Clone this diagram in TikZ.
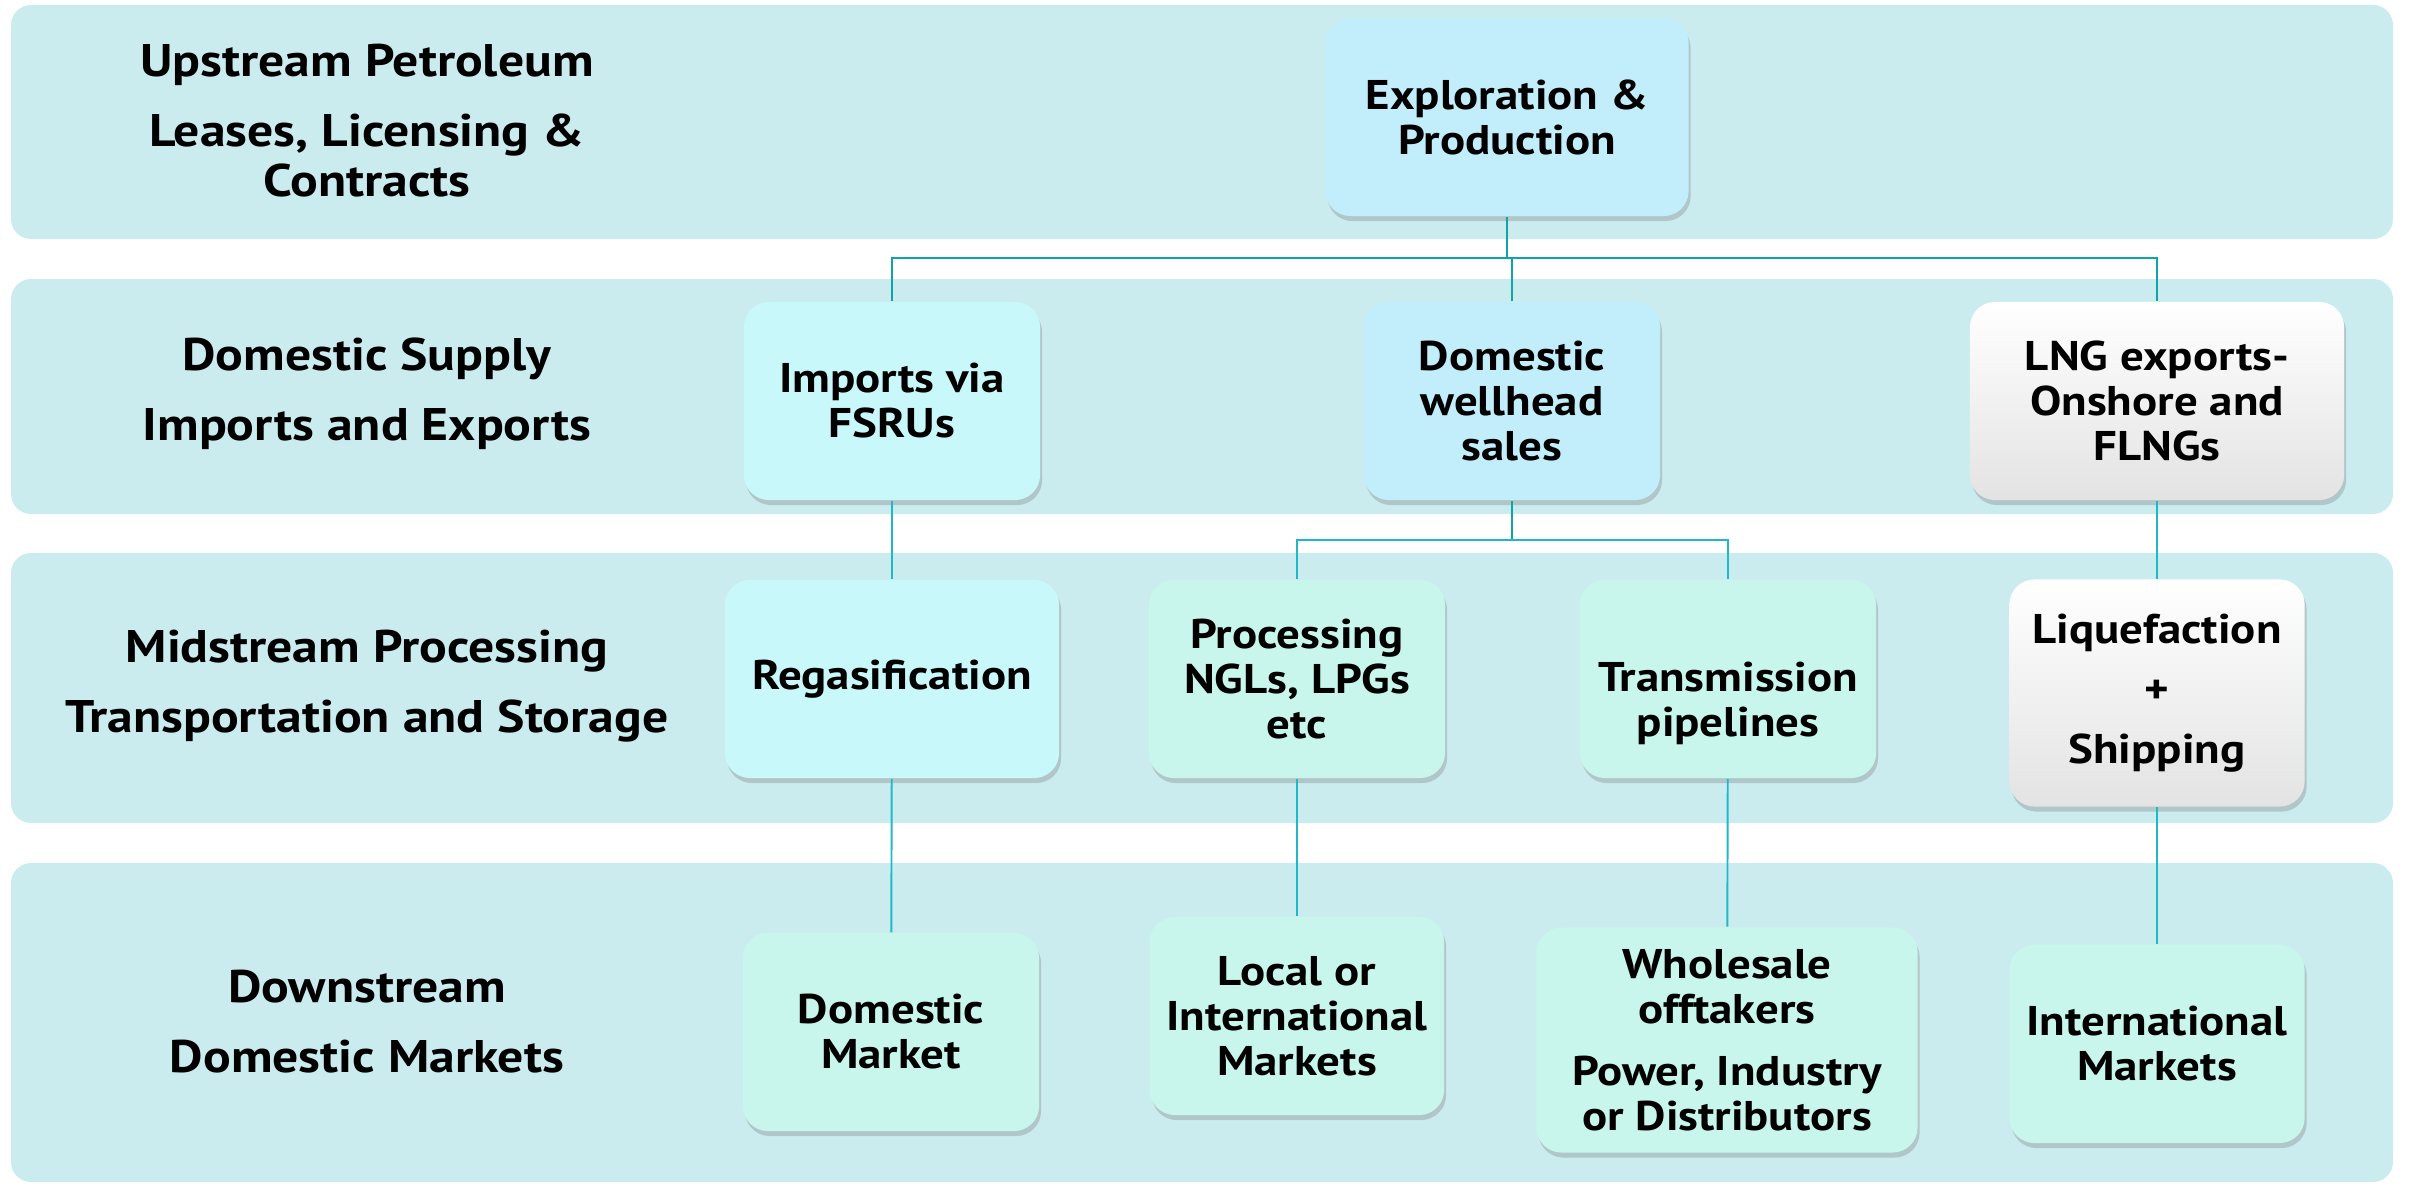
\documentclass[tikz,border=0pt]{standalone}
\usepackage{fontspec}
\setmainfont{PT Sans}[FakeStretch=1.13]
\usetikzlibrary{shadows}
\definecolor{bandfill}{RGB}{203,236,239}
\definecolor{bluefill}{RGB}{194,238,252}
\definecolor{cyanfill}{RGB}{200,248,250}
\definecolor{mintfill}{RGB}{200,246,236}
\definecolor{linkdark}{RGB}{16,163,170}
\definecolor{linklight}{RGB}{30,185,196}
\begin{document}
\begin{tikzpicture}
  [x=0.01cm,y=-0.01cm,every node/.style={font=\bfseries\fontsize{11.8}{12.8}\selectfont,align=center}]
  \tikzstyle{band} = [fill=bandfill,rounded corners=0.2cm]
  \tikzstyle{stage} = [font=\bfseries\fontsize{13}{14.2}\selectfont]
  \tikzstyle{box} = [rounded corners=0.25cm,minimum width=2.96cm,minimum height=1.98cm,
    drop shadow={shadow xshift=0.02cm,shadow yshift=-0.05cm,opacity=0.35}]
  \tikzstyle{bluebox} = [box,fill=bluefill]
  \tikzstyle{cyanbox} = [box,fill=cyanfill]
  \tikzstyle{mintbox} = [box,fill=mintfill]
  \tikzstyle{greybox} = [box,top color=white,middle color=white,bottom color=black!11]
  \tikzstyle{link} = [draw=linkdark,line width=0.7pt]
  \tikzstyle{sublink} = [draw=linklight,line width=0.55pt]
  \useasboundingbox (0,0) rectangle (2413,1185);
  % bands
  \fill[band] (11,5) rectangle (2393,239);
  \fill[band] (11,279) rectangle (2393,514);
  \fill[band] (11,553) rectangle (2393,823);
  \fill[band] (11,863) rectangle (2393,1182);
  % stage labels
  \node[stage] (up) at (367,121) {Upstream Petroleum\\[5.7pt]Leases, Licensing \&\\Contracts};
  \node[stage] (sup) at (367,394) {Domestic Supply\\[5.7pt]Imports and Exports};
  \node[stage] (mid) at (367,686) {Midstream Processing\\[5.7pt]Transportation and Storage};
  \node[stage] (down) at (367,1022) {Downstream\\[5.7pt]Domestic Markets};
  % boxes
  \node[bluebox,minimum width=3.63cm] (expl) at (1507,117) {Exploration \&\\Production};
  \node[cyanbox] (imp) at (892,401) {Imports via\\FSRUs};
  \node[bluebox] (well) at (1512,401) {Domestic\\wellhead\\sales};
  \node[greybox,minimum width=3.74cm] (lng) at (2157,401) {LNG exports-\\Onshore and\\FLNGs};
  \node[cyanbox,minimum width=3.34cm] (regas) at (892,679) {Regasification};
  \node[mintbox] (proc) at (1297,679) {Processing\\NGLs, LPGs\\etc};
  \node[mintbox] (trans) at (1728,679) {\rule{0pt}{22pt}Transmission\\pipelines};
  \node[greybox,minimum width=2.95cm,minimum height=2.27cm] (liq) at (2157,693) {Liquefaction\\[4.2pt]+\\[4.2pt]Shipping};
  \node[mintbox] (dmkt) at (891,1032) {Domestic\\Market};
  \node[mintbox,minimum width=2.94cm] (local) at (1297,1016) {Local or\\International\\Markets};
  \node[mintbox,minimum width=3.81cm,minimum height=2.25cm] (whole) at (1727,1040) {Wholesale\\offtakers\\[4.8pt]Power, Industry\\or Distributors};
  \node[mintbox,minimum width=2.95cm] (intl) at (2157,1044) {International\\Markets};
  % connectors
  \coordinate (j1) at (1507,258);
  \coordinate (j2) at (1512,540);
  \draw[link] (expl.south) -- (j1);
  \draw[link] (imp.north) -- (imp.north |- j1) -- (lng.north |- j1) -- (lng.north);
  \draw[link] (well.north) -- (well.north |- j1);
  \draw[link] (well.south) -- (j2);
  \draw[sublink] (proc.north) -- (proc.north |- j2) -- (trans.north |- j2) -- (trans.north);
\foreach \source /\dest in {imp/regas,lng/liq,regas/dmkt,proc/local,trans/whole,liq/intl}
   \draw[sublink] (\source) -- (\dest);
\end{tikzpicture}
\end{document}
